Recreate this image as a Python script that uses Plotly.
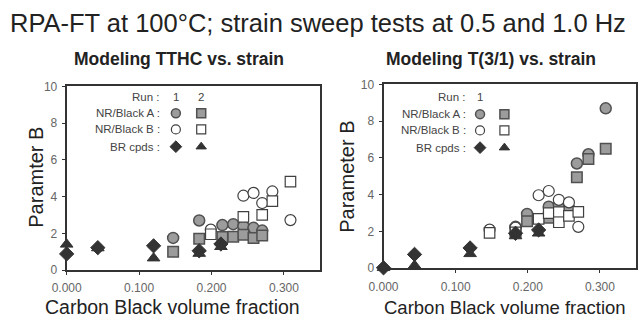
import plotly.graph_objects as go

# ---------------- data ----------------
# Left panel: Modeling TTHC vs. strain
L_A1_x = [0.147, 0.183, 0.215, 0.230, 0.244, 0.258, 0.270]
L_A1_y = [1.75, 2.70, 2.45, 2.50, 2.40, 2.30, 2.15]
L_A2_x = [0.147, 0.183, 0.215, 0.230, 0.244, 0.258, 0.270]
L_A2_y = [1.00, 1.70, 1.80, 1.82, 1.93, 1.75, 1.88]
L_B1_x = [0.199, 0.244, 0.258, 0.270, 0.284, 0.309]
L_B1_y = [2.20, 4.05, 4.20, 3.65, 4.28, 2.72]
L_B2_x = [0.199, 0.244, 0.270, 0.284, 0.309]
L_B2_y = [1.95, 2.90, 3.00, 3.75, 4.82]
L_BR_x = [0.0, 0.043, 0.120, 0.183, 0.213]
L_BR1_y = [0.88, 1.22, 1.32, 1.05, 1.42]
L_BR2_y = [1.40, 1.20, 0.65, 0.90, 1.27]

# Right panel: Modeling T(3/1) vs. strain
R_A1_x = [0.183, 0.199, 0.229, 0.243, 0.257, 0.268, 0.284, 0.308]
R_A1_y = [2.25, 2.95, 3.35, 3.45, 3.20, 5.70, 6.20, 8.70]
R_A2_x = [0.183, 0.199, 0.229, 0.243, 0.257, 0.268, 0.284, 0.308]
R_A2_y = [2.05, 2.55, 2.75, 2.95, 3.10, 4.95, 5.95, 6.50]
R_B1_x = [0.147, 0.183, 0.215, 0.229, 0.243, 0.257, 0.270]
R_B1_y = [2.10, 2.20, 3.97, 4.20, 3.72, 3.58, 2.25]
R_B2_x = [0.147, 0.183, 0.215, 0.229, 0.243, 0.243, 0.257, 0.270]
R_B2_y = [1.92, 1.95, 2.68, 3.00, 3.05, 2.50, 2.85, 3.07]
R_BR_x = [0.0, 0.043, 0.120, 0.183, 0.215]
R_BR1_y = [0.02, 0.75, 1.10, 1.90, 2.08]
R_BR2_y = [0.02, 0.15, 0.78, 1.75, 1.90]

x_ticks = [0.0, 0.1, 0.2, 0.3]
y_ticks = [0, 2, 4, 6, 8, 10]
legend_rows = ["NR/Black A :", "NR/Black B :", "BR cpds :"]

# ---------------- styles ----------------
FONT = "Liberation Sans, Arial, sans-serif"
W, H = 638, 323
DARK = "#333333"
GRAYFILL = "#9c9c9c"

styles = {
    "A1": dict(symbol="circle", color=GRAYFILL, line=dict(color="#505050", width=1.5)),
    "A2": dict(symbol="square", color=GRAYFILL, line=dict(color="#505050", width=1.5)),
    "B1": dict(symbol="circle", color="white", line=dict(color="#404040", width=1.2)),
    "B2": dict(symbol="square", color="white", line=dict(color="#404040", width=1.2)),
    "BR1": dict(symbol="diamond", color=DARK, line=dict(color=DARK, width=1)),
    "BR2": dict(symbol="triangle-up", color=DARK, line=dict(color=DARK, width=1)),
}
sizes = {"A1": 11, "A2": 10.5, "B1": 11, "B2": 10.5, "BR1": 11, "BR2": 11}

fig = go.Figure()

def add(x, y, key, xa, ya):
    fig.add_trace(go.Scatter(x=x, y=y, mode="markers", xaxis=xa, yaxis=ya,
                             cliponaxis=False, showlegend=False, hoverinfo="skip",
                             marker=dict(size=sizes[key], **styles[key])))

for xa, ya, sets in [
    ("x", "y", [(L_A1_x, L_A1_y, "A1"), (L_A2_x, L_A2_y, "A2"), (L_B1_x, L_B1_y, "B1"),
                (L_B2_x, L_B2_y, "B2"), (L_BR_x, L_BR1_y, "BR1"), (L_BR_x, L_BR2_y, "BR2")]),
    ("x2", "y2", [(R_A1_x, R_A1_y, "A1"), (R_A2_x, R_A2_y, "A2"), (R_B1_x, R_B1_y, "B1"),
                  (R_B2_x, R_B2_y, "B2"), (R_BR_x, R_BR1_y, "BR1"), (R_BR_x, R_BR2_y, "BR2")]),
]:
    for x, y, k in sets:
        add(x, y, k, xa, ya)

# legend keys drawn on a full-figure pixel overlay axis (x3/y3)
leg_panels = [
    dict(text_right=151, col1=165, col2=191, rows=[111, 128, 146], run_y=94, runs=["1", "2"]),
    dict(text_right=465, col1=477, col2=502, rows=[112, 129, 147], run_y=94, runs=["1"]),
]
pairs = [("A1", "A2"), ("B1", "B2"), ("BR1", "BR2")]
LEGFONT = dict(size=11.5, color="#444", family=FONT)
annotations = []
for p in leg_panels:
    for (k1, k2), ry, label in zip(pairs, p["rows"], legend_rows):
        for k, cx in ((k1, p["col1"]), (k2, p["col2"])):
            fig.add_trace(go.Scatter(x=[cx], y=[ry], mode="markers", xaxis="x3", yaxis="y3",
                                     cliponaxis=False, showlegend=False, hoverinfo="skip",
                                     marker=dict(size=9, **styles[k])))
        annotations.append(dict(x=p["text_right"], y=ry, xref="x3", yref="y3", text=label,
                                showarrow=False, xanchor="right", yanchor="middle", font=LEGFONT))
    annotations.append(dict(x=p["text_right"], y=p["run_y"], xref="x3", yref="y3", text="Run :",
                            showarrow=False, xanchor="right", yanchor="middle", font=LEGFONT))
    for r, cx in zip(p["runs"], (p["col1"], p["col2"])):
        annotations.append(dict(x=cx, y=p["run_y"], xref="x3", yref="y3", text=r,
                                showarrow=False, xanchor="center", yanchor="middle", font=LEGFONT))

# titles
TITLE = dict(color="#222", family=FONT)
annotations += [
    dict(x=311, y=17, xref="x3", yref="y3", text="RPA-FT at 100°C; strain sweep tests at 0.5 and 1.0 Hz",
         showarrow=False, xanchor="center", yanchor="middle", font=dict(size=25.5, **TITLE)),
    dict(x=168, y=54, xref="x3", yref="y3", text="<b>Modeling TTHC vs. strain</b>",
         showarrow=False, xanchor="center", yanchor="middle", font=dict(size=17.5, **TITLE)),
    dict(x=488, y=54, xref="x3", yref="y3", text="<b>Modeling T(3/1) vs. strain</b>",
         showarrow=False, xanchor="center", yanchor="middle", font=dict(size=17.5, **TITLE)),
    dict(x=162, y=314, xref="x3", yref="y3", text="Carbon Black volume fraction",
         showarrow=False, xanchor="center", yanchor="middle", font=dict(size=19.5, **TITLE)),
    dict(x=503, y=314, xref="x3", yref="y3", text="Carbon Black volume fraction",
         showarrow=False, xanchor="center", yanchor="middle", font=dict(size=18.5, **TITLE)),
    dict(x=22, y=178, xref="x3", yref="y3", text="Paramter B", textangle=-90,
         showarrow=False, xanchor="center", yanchor="middle", font=dict(size=20, **TITLE)),
    dict(x=341, y=177, xref="x3", yref="y3", text="Parameter B", textangle=-90,
         showarrow=False, xanchor="center", yanchor="middle", font=dict(size=20, **TITLE)),
]

TICKFONT = dict(size=12, color="#666", family=FONT)

def xaxis(domain, anchor):
    return dict(domain=domain, anchor=anchor, range=[0, 0.35], tickvals=x_ticks, tickformat=".3f",
                showgrid=False, zeroline=False, showline=True, linecolor=DARK, linewidth=2, mirror=True,
                ticks="outside", ticklen=3, tickcolor=DARK, tickfont=TICKFONT,
                ticklabelstandoff=3, fixedrange=True)

def yaxis(domain, anchor):
    return dict(domain=domain, anchor=anchor, range=[0, 10], tickvals=y_ticks,
                showgrid=False, zeroline=False, showline=True, linecolor=DARK, linewidth=2, mirror=True,
                ticks="outside", ticklen=3, tickcolor=DARK, tickfont=TICKFONT,
                ticklabelstandoff=2, fixedrange=True)

fig.update_layout(
    width=W, height=H, margin=dict(l=0, r=0, t=0, b=0),
    paper_bgcolor="white", plot_bgcolor="rgba(0,0,0,0)",
    xaxis=xaxis([53 / W, 313 / W], "y"),
    yaxis=yaxis([1 - 275 / H, 1 - 83 / H], "x"),
    xaxis2=xaxis([378 / W, 637 / W], "y2"),
    yaxis2=yaxis([1 - 273 / H, 1 - 81 / H], "x2"),
    xaxis3=dict(domain=[0, 1], anchor="y3", range=[0, W], visible=False, fixedrange=True),
    yaxis3=dict(domain=[0, 1], anchor="x3", range=[H, 0], visible=False, fixedrange=True),
    annotations=annotations,
    font=dict(family=FONT),
)

fig.write_html("out.html")
